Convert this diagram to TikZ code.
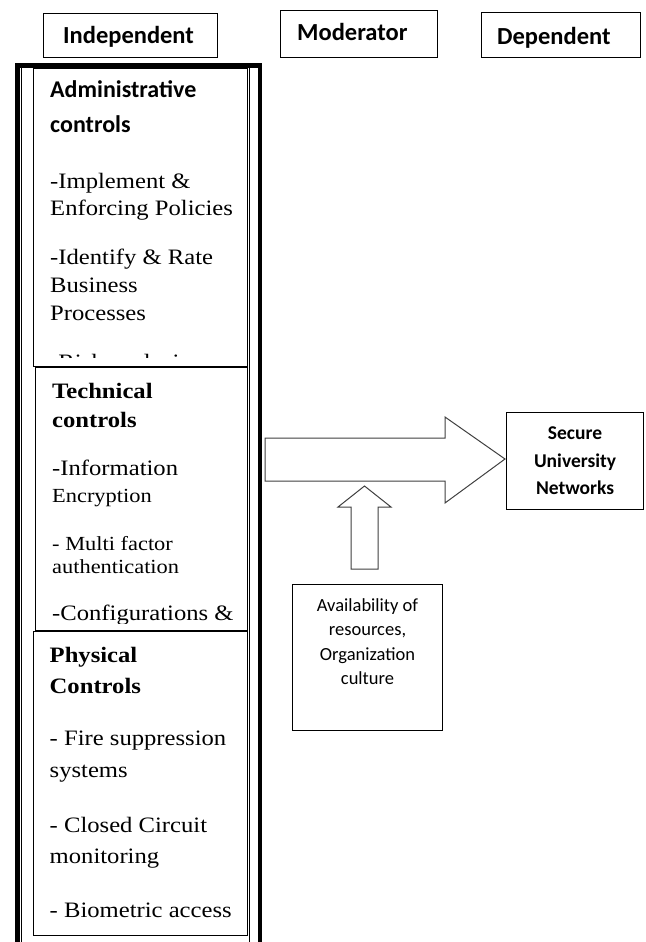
\documentclass[tikz,border=0pt]{standalone}
\usepackage{fontspec}
\newfontfamily\carl{Carlito}
\newfontfamily\serf{Liberation Serif}[FakeStretch=1.12]
\begin{document}
\begin{tikzpicture}[x=1pt,y=-1pt,
  frame/.style={draw=black,line width=1.1pt,fill=white},
  hdr/.style={font=\carl\bfseries\fontsize{24.5}{28}\selectfont,anchor=base west,inner sep=0pt},
  cbold/.style={font=\carl\bfseries\fontsize{24}{28}\selectfont,anchor=base west,inner sep=0pt},
  sbody/.style={font=\serf\fontsize{22}{26}\selectfont,anchor=base west,inner sep=0pt},
  ssmall/.style={font=\serf\fontsize{20}{24}\selectfont,anchor=base west,inner sep=0pt},
  sbold/.style={font=\serf\bfseries\fontsize{22}{26}\selectfont,anchor=base west,inner sep=0pt},
  ctext/.style={font=\carl\fontsize{18.5}{24.5}\selectfont,align=center,inner sep=0pt},
  btext/.style={font=\carl\bfseries\fontsize{19.5}{27.5}\selectfont,align=center,inner sep=0pt},
  blockarrow/.style={draw=black!75,line width=1pt,fill=white,line join=miter}
]
\useasboundingbox (0,0) rectangle (645,942);
\fill[white] (0,0) rectangle (645,942);

% header boxes
\node[frame,anchor=north west,minimum width=174pt,minimum height=44pt] (indepbox) at (43,13) {};
\node[frame,anchor=north west,minimum width=157pt,minimum height=47pt] (modbox) at (280,10) {};
\node[frame,anchor=north west,minimum width=159pt,minimum height=45pt] (depbox) at (481,12) {};
\node[hdr] (indep) at (63,44) {Independent};
\node[hdr] (mod) at (297,41) {Moderator};
\node[hdr] (dep) at (497,45) {Dependent};

% outer frame
\draw[line width=4.5pt] (17.5,950) -- (17.5,65.5) -- (260,65.5) -- (260,950);
\draw[line width=0.8pt] (21.5,68) -- (21.5,950);
\draw[line width=0.8pt] (249.5,68) -- (249.5,950);

% administrative box
\node[frame,anchor=north west,minimum width=214pt,minimum height=298pt] (adminbox) at (33,68) {};
\begin{scope}
\clip (33,68) rectangle (247,357);
\node[cbold] (a1) at (50,97) {Administrative};
\node[cbold] (a2) at (50,132) {controls};
\node[sbody] (a3) at (50,188) {-Implement \&};
\node[sbody] (a4) at (50,215) {Enforcing Policies};
\node[sbody] (a5) at (50,264) {-Identify \& Rate};
\node[sbody] (a6) at (50,292) {Business};
\node[sbody] (a7) at (50,320) {Processes};
\node[sbody] (a8) at (50,369) {-Risk analysis};
\end{scope}

% technical box
\node[frame,anchor=north west,minimum width=212pt,minimum height=263pt] (techbox) at (35,367) {};
\begin{scope}
\clip (35,367) rectangle (247,623);
\node[sbold] (t1) at (52,398) {Technical};
\node[sbold] (t2) at (52,427) {controls};
\node[sbody] (t3) at (52,475) {-Information};
\node[ssmall] (t4) at (52,502) {Encryption};
\node[ssmall] (t5) at (52,550) {- Multi factor};
\node[ssmall] (t6) at (52,573) {authentication};
\node[sbody] (t7) at (52,620) {-Configurations \&};
\end{scope}

% physical box
\node[frame,anchor=north west,minimum width=214pt,minimum height=304pt] (physbox) at (33,631) {};
\node[sbold] (p1) at (49.5,662) {Physical};
\node[sbold] (p2) at (49.5,693) {Controls};
\node[sbody] (p3) at (49.5,745) {- Fire suppression};
\node[sbody] (p4) at (49.5,777) {systems};
\node[sbody] (p5) at (49.5,832) {- Closed Circuit};
\node[sbody] (p6) at (49.5,863) {monitoring};
\node[sbody] (p7) at (49.5,917) {- Biometric access};

% dependent variable box
\node[frame,anchor=north west,minimum width=137pt,minimum height=97pt] (secure) at (506,412) {};
\node[btext] (securetxt) at (secure.center) {Secure\\University\\Networks};

% moderator box
\node[frame,anchor=north west,minimum width=150pt,minimum height=146pt] (avail) at (292,584) {};
\node[ctext,anchor=north] (availtxt) at (367.5,598) {Availability of\\resources,\\Organization\\culture};

% big arrow
\draw[blockarrow] (265,438) -- (445,438) -- (445,417) -- (505,459) -- (445,503) -- (445,481) -- (265,481) -- cycle;
% up arrow
\draw[blockarrow] (351,569) -- (351,507) -- (338,507) -- (364.5,486) -- (391,507) -- (378,507) -- (378,569) -- cycle;
\end{tikzpicture}
\end{document}
